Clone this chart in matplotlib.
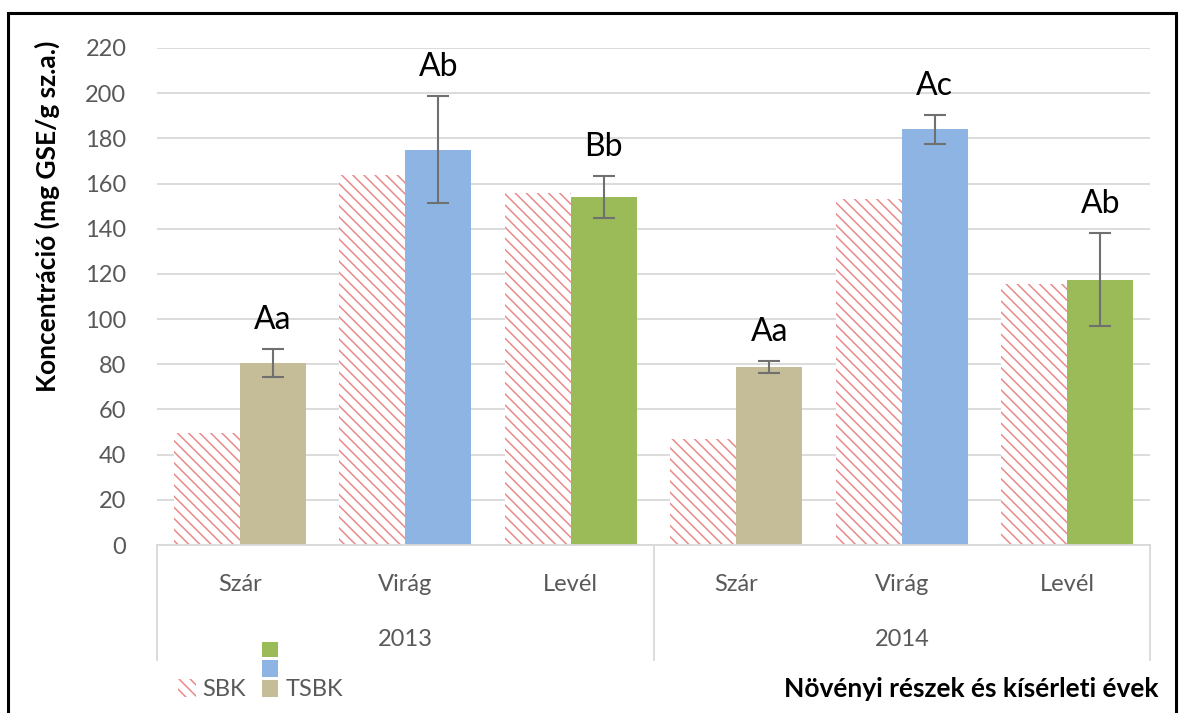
import matplotlib.pyplot as plt
from matplotlib.patches import Rectangle
import numpy as np

plt.rcParams['font.family'] = ['Lato', 'DejaVu Sans']
plt.rcParams['hatch.linewidth'] = 1.1

years = ['2013', '2014']
parts = ['Szár', 'Virág', 'Levél', 'Szár', 'Virág', 'Levél']
sbk = [49.5, 164, 156, 47, 153, 115.5]
tsbk = [80.5, 175, 154, 78.7, 184, 117.5]
tsbk_err = [6.3, 23.6, 9.4, 2.6, 6.3, 20.7]
letters = ['Aa', 'Ab', 'Bb', 'Aa', 'Ac', 'Ab']
yticks = list(range(0, 221, 20))

part_colors = {'Szár': '#C4BD97', 'Virág': '#8DB4E2', 'Levél': '#9BBB59'}
hatch_col = '#E98A8A'
grey_txt = '#595959'

fig = plt.figure(figsize=(11.83, 7.13), dpi=100)
ax = fig.add_axes([157 / 1183, 1 - 545 / 713, 993 / 1183, 497 / 713])

x = np.arange(len(parts))
w = 0.4
ax.bar(x - w / 2, sbk, w, color='white', edgecolor=hatch_col, linewidth=0,
       hatch='\\\\\\', zorder=2)
ax.bar(x + w / 2, tsbk, w, color=[part_colors[p] for p in parts],
       yerr=tsbk_err, capsize=8,
       error_kw=dict(ecolor='#707070', elinewidth=1.5, capthick=1.5), zorder=2)

for xi, v, e, lab in zip(x, tsbk, tsbk_err, letters):
    ax.annotate(lab, (xi + w / 2, v + e), xytext=(0, 21), textcoords='offset points',
                ha='center', va='center', fontsize=23, color='black', zorder=3)

ax.set_xlim(-0.5, 5.5)
ax.set_ylim(0, 220)
ax.set_yticks(yticks)
ax.yaxis.grid(True, color='#D9D9D9', linewidth=1.3, zorder=0)
ax.set_axisbelow(True)
ax.tick_params(axis='y', length=0, pad=22, labelsize=17, labelcolor=grey_txt)
ax.set_xticks([])
for s in ['top', 'right', 'left']:
    ax.spines[s].set_visible(False)
ax.spines['bottom'].set_color('#D9D9D9')
ax.spines['bottom'].set_linewidth(1.3)

# multi-level category axis
tr = ax.get_xaxis_transform()
for xi, p in zip(x, parts):
    ax.text(xi, -0.08, p, transform=tr, ha='center', va='center',
            fontsize=17, color=grey_txt)
for i, yr in enumerate(years):
    ax.text(1 + 3 * i, -0.19, yr, transform=tr, ha='center', va='center',
            fontsize=17, color=grey_txt)
for xs in [-0.5, 2.5, 5.5]:
    ax.plot([xs, xs], [0, -0.232], transform=tr, color='#D9D9D9', lw=1.3,
            clip_on=False)

fig.text(47 / 1183, 1 - 216 / 713, 'Koncentráció (mg GSE/g sz.a.)', rotation=90,
         ha='center', va='center', fontsize=19, fontweight='bold')
fig.text(1158 / 1183, 1 - 689 / 713, 'Növényi részek és kísérleti évek',
         ha='right', va='center', fontsize=19, fontweight='bold')

# legend
def px_rect(x0, y0, x1, y1, **kw):
    fig.add_artist(Rectangle((x0 / 1183, 1 - y1 / 713), (x1 - x0) / 1183,
                             (y1 - y0) / 713, transform=fig.transFigure, **kw))

px_rect(178, 679, 196, 697, facecolor='white', edgecolor=hatch_col, linewidth=0,
        hatch='\\\\\\')
fig.text(202 / 1183, 1 - 689 / 713, 'SBK', ha='left', va='center',
         fontsize=17, color=grey_txt)
px_rect(262, 642, 278, 657, facecolor=part_colors['Levél'], linewidth=0)
px_rect(262, 660, 278, 677, facecolor=part_colors['Virág'], linewidth=0)
px_rect(262, 680, 278, 697, facecolor=part_colors['Szár'], linewidth=0)
fig.text(286 / 1183, 1 - 689 / 713, 'TSBK', ha='left', va='center',
         fontsize=17, color=grey_txt)

# frame around the chart
px_rect(8, 13, 1176, 716, facecolor='none', edgecolor='black', linewidth=2.2)

fig.savefig('out.png', dpi=100)
